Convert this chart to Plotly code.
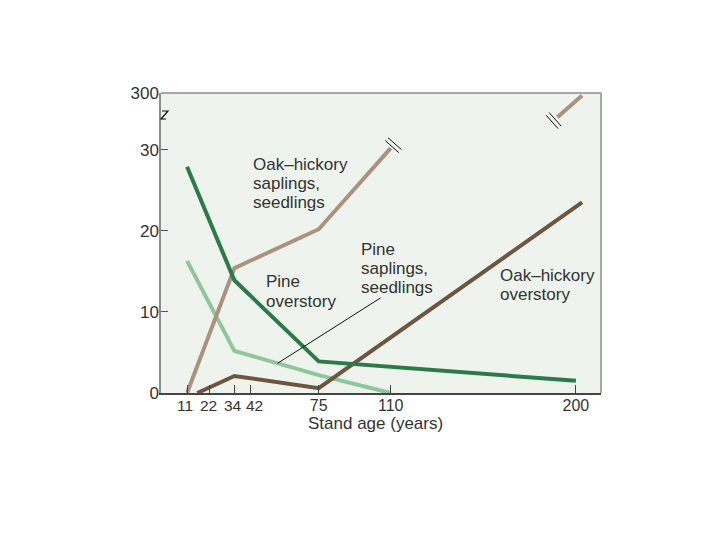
import numpy as np
import plotly.graph_objects as go

# ---------------- data ----------------
tick_ages = [11, 22, 34, 42, 75, 110, 200]
tick_text = [str(a) for a in tick_ages]
# labels nudged sideways in the original (crowded ticks): age -> pixel shift
tick_nudge = {11: -2, 22: -1, 34: -1, 42: 4}
y_tick_vals = [0, 10, 20, 30, 37]          # 37 = broken-axis position of "300"
y_tick_text = ["0", "10", "20", "30", "300"]

pine_over_age = [11, 34, 75, 200]
pine_over_val = [27.9, 13.9, 3.9, 1.5]

pine_sap_age = [11, 34, 75, 110]
pine_sap_val = [16.3, 5.2, 2.2, 0.0]

oak_sap_age = [11, 34, 75, 110]
oak_sap_val = [0.0, 15.4, 20.2, 30.2]
oak_sap_upper_age = [191, 203]             # segment after the axis break (toward 300)
oak_sap_upper_val = [34.0, 36.7]

oak_over_age = [16, 34, 75, 203]
oak_over_val = [0.0, 2.1, 0.6, 23.5]

# ---------------- style ----------------
OFF = 8                      # page body margin
W, H = 704, 524
ML, MT = 161 - OFF, 93 - OFF
PW, PH = 440, 300
MR, MB = W - ML - PW, H - MT - PH
XR = [-1.66, 212.2]
YR = [0, 37]
sx = PW / (XR[1] - XR[0])
sy = PH / (YR[1] - YR[0])

def px2x(px):
    return XR[0] + (px - OFF - ML) / sx

def py2y(py):
    return YR[0] + (OFF + MT + PH - py) / sy

def px2paper(px):
    return (px - OFF - ML) / PW

def py2paper(py):
    return (OFF + MT + PH - py) / PH

C_PINE_OVER = "#2b7a47"
C_PINE_SAP = "#8fc79a"
C_OAK_SAP = "#ab927e"
C_OAK_OVER = "#6d5640"
TXT = "#333333"
FONT = "Liberation Sans, Arial, sans-serif"
LW = 4

fig = go.Figure()
for ages, vals, col in [
    (pine_sap_age, pine_sap_val, C_PINE_SAP),
    (oak_over_age, oak_over_val, C_OAK_OVER),
    (oak_sap_age, oak_sap_val, C_OAK_SAP),
    (oak_sap_upper_age, oak_sap_upper_val, C_OAK_SAP),
    (pine_over_age, pine_over_val, C_PINE_OVER),
]:
    fig.add_trace(go.Scatter(x=ages, y=vals, mode="lines",
                             line=dict(color=col, width=LW),
                             showlegend=False, hoverinfo="skip"))

shapes = []
# frame top and right
shapes.append(dict(type="line", xref="paper", yref="paper", x0=0, x1=1, y0=1, y1=1,
                   line=dict(color="#8c8c8c", width=1.5)))
shapes.append(dict(type="line", xref="paper", yref="paper", x0=1, x1=1, y0=0, y1=1,
                   line=dict(color="#8c8c8c", width=1.5)))

# break marks "//" on the oak-hickory sapling line
def break_marks(ax, ay, bx, by, offsets):
    dx = (bx - ax) * sx
    dy = (by - ay) * sy
    n = np.hypot(dx, dy)
    ux, uy = dx / n, dy / n
    px_, py_ = uy, -ux
    out = []
    for d in offsets:
        cx, cy = ux * d, uy * d
        out.append(dict(type="line", xref="x", yref="y", xsizemode="pixel", ysizemode="pixel",
                        xanchor=bx, yanchor=by,
                        x0=cx - 9 * px_, y0=cy - 9 * py_, x1=cx + 9 * px_, y1=cy + 9 * py_,
                        line=dict(color="#111111", width=1)))
    return out

shapes += break_marks(oak_sap_age[-2], oak_sap_val[-2], oak_sap_age[-1], oak_sap_val[-1], [2, 6])
shapes += break_marks(oak_sap_upper_age[1], oak_sap_upper_val[1],
                      oak_sap_upper_age[0], oak_sap_upper_val[0], [3, 7])

# y-axis break squiggle
shapes.append(dict(type="path", xref="paper", yref="y", xsizemode="pixel", ysizemode="pixel",
                   xanchor=0, yanchor=py2y(115),
                   path="M 1,4 L 7,4 L 0,-4 L 5,-4",
                   line=dict(color="#111111", width=1.2)))

annotations = []

def label(lines, left_px, first_center_py, step=19):
    for i, t in enumerate(lines):
        annotations.append(dict(x=px2x(left_px), y=py2y(first_center_py + i * step),
                                xref="x", yref="y", text=t, showarrow=False,
                                xanchor="left", yanchor="middle",
                                font=dict(family=FONT, size=17, color=TXT)))

label(["Oak\u2013hickory", "saplings,", "seedlings"], 251, 164.5)
label(["Pine", "overstory"], 264, 281.5, 19.5)
label(["Pine", "saplings,", "seedlings"], 359, 249)
label(["Oak\u2013hickory", "overstory"], 498, 275)

# pointer to pine sapling line
head_age = 55
head_val = float(np.interp(head_age, pine_sap_age, pine_sap_val))
annotations.append(dict(x=head_age, y=head_val, xref="x", yref="y", text="",
                        showarrow=True, arrowhead=0, arrowwidth=1, arrowcolor="#111111",
                        ax=px2x(382), ay=py2y(297), axref="x", ayref="y", standoff=0))

# nudged x tick labels (drawn as text next to their ticks)
axis_ticktext = []
for a, t in zip(tick_ages, tick_text):
    if a in tick_nudge:
        axis_ticktext.append("")
        annotations.append(dict(x=a, y=py2paper(405), xref="x", yref="paper", text=t,
                                showarrow=False, xanchor="center", yanchor="middle",
                                xshift=tick_nudge[a],
                                font=dict(family=FONT, size=15.5, color=TXT)))
    else:
        axis_ticktext.append(t)

# x-axis title
annotations.append(dict(x=px2paper(375), y=py2paper(423), xref="paper", yref="paper",
                        text="Stand age (years)", showarrow=False,
                        xanchor="center", yanchor="middle",
                        font=dict(family=FONT, size=17, color=TXT)))

fig.update_layout(
    width=W, height=H,
    margin=dict(l=ML, r=MR, t=MT, b=MB, pad=0, autoexpand=False),
    paper_bgcolor="white", plot_bgcolor="#eef3ee",
    shapes=shapes, annotations=annotations,
    xaxis=dict(range=XR, tickvals=tick_ages, ticktext=axis_ticktext,
               tickangle=0, automargin=False, ticklabelstandoff=-3,
               ticks="inside", ticklen=8, tickwidth=1, tickcolor="#444444",
               showline=True, linecolor="#444444", linewidth=1.5,
               showgrid=False, zeroline=False, fixedrange=True,
               tickfont=dict(family=FONT, size=16, color=TXT)),
    yaxis=dict(range=YR, tickvals=y_tick_vals, ticktext=y_tick_text,
               automargin=False, ticklabelstandoff=-3,
               ticks="inside", ticklen=7, tickwidth=1, tickcolor="#555555",
               showline=True, linecolor="#8c8c8c", linewidth=1.5,
               showgrid=False, zeroline=False, fixedrange=True,
               tickfont=dict(family=FONT, size=17, color=TXT)),
)

fig.write_html("out.html")
